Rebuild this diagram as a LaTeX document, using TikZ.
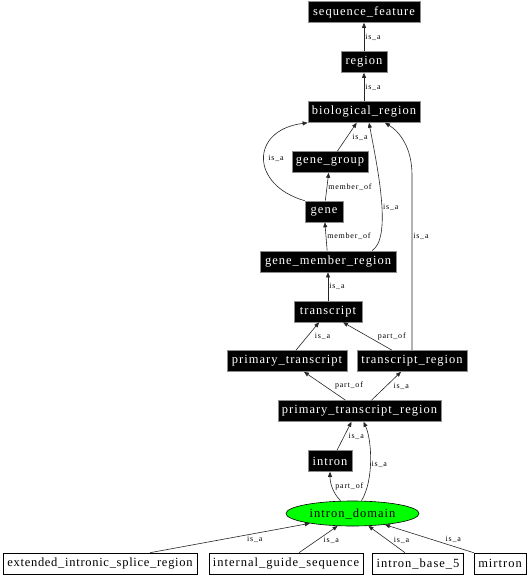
\documentclass[tikz,border=0pt]{standalone}
\usepackage{fontspec}
\setmainfont{Liberation Serif}
\newfontfamily\nfont[LetterSpace=8]{Liberation Serif}
\newfontfamily\nfontb[LetterSpace=5.7]{Liberation Serif}
\newfontfamily\lfont[LetterSpace=10]{Liberation Serif}
\usetikzlibrary{arrows.meta,shapes.geometric,calc}
\begin{document}
\begin{tikzpicture}[x=1pt,y=-1pt,
  base/.style={font=\nfont\fontsize{12.5}{14}\selectfont, line width=0.6pt, minimum height=21pt, inner xsep=4pt, inner ysep=0pt},
  blk/.style={base, rectangle, fill=black, draw=black!45, text=white},
  wht/.style={base, rectangle, fill=white, draw=black, text=black},
  gre/.style={base, ellipse, fill=green, draw=black, text=black, minimum width=133pt, minimum height=25pt, inner sep=0pt},
  edge/.style={draw=black!85, line width=0.6pt, -{Triangle[length=5pt,width=4pt]}},
  lbl/.style={font=\lfont\fontsize{8}{9}\selectfont, inner sep=1pt, text=black}]
\useasboundingbox[fill=white] (0,0) rectangle (530,576);
\node[blk, minimum width=112pt] (sf) at (364,12) {sequence\_feature};
\node[blk, minimum width=46pt] (reg) at (364,62) {region};
\node[blk, minimum width=108pt] (bio) at (364,112) {biological\_region};
\node[blk, minimum width=76pt] (gg) at (330,162) {gene\_group};
\node[blk, minimum width=38pt] (gene) at (324,211.5) {gene};
\node[blk, minimum width=136pt] (gmr) at (328,261.5) {gene\_member\_region};
\node[blk, minimum width=68pt] (tr) at (328,311.5) {transcript};
\node[blk, minimum width=120pt] (pt) at (287,361) {primary\_transcript};
\node[blk, minimum width=110pt] (trr) at (412,361) {transcript\_region};
\node[blk, minimum width=163pt] (ptr) at (359.5,411) {primary\_transcript\_region};
\node[blk, minimum width=44pt] (intron) at (330,461) {intron};
\node[gre] (idom) at (352.5,513.5) {intron\_domain};
\node[wht, font=\nfontb\fontsize{12.5}{14}\selectfont, minimum width=194pt] (ext) at (100,563.5) {extended\_intronic\_splice\_region};
\node[wht, minimum width=154pt] (igs) at (286,563.5) {internal\_guide\_sequence};
\node[wht, minimum width=90pt] (ib5) at (418,563.5) {intron\_base\_5};
\node[wht, minimum width=52pt] (mir) at (500,563.5) {mirtron};

\draw[edge] (reg) -- node[lbl, anchor=west] {is\_a} (sf);
\draw[edge] (bio) -- node[lbl, anchor=west] {is\_a} (reg);
\draw[edge] (gg) -- node[lbl, anchor=west, xshift=4pt] {is\_a} (bio);
\draw[edge] (gene) -- node[lbl, anchor=west] {member\_of} (gg);
\draw[edge] (gene.north west) .. controls (250,185) and (250,130) .. node[lbl, pos=0.5, anchor=west, xshift=3pt] {is\_a} (bio.south west);
\draw[edge] (gmr) -- node[lbl, anchor=west] {member\_of} (gene);
\draw[edge] ($(gmr.north)+(44,0)$) .. controls (392,238) and (378,170) .. node[lbl, pos=0.45, anchor=west] {is\_a} ($(bio.south)+(5,0)$);
\draw[edge] (tr) -- node[lbl, anchor=west] {is\_a} (gmr);
\draw[edge] (pt) -- node[lbl, anchor=west, xshift=6pt] {is\_a} (tr);
\draw[edge] ($(trr.north)+(-20,0)$) -- node[lbl, anchor=west, xshift=9pt] {part\_of} ($(tr.south)+(15,0)$);
\draw[edge] (trr.north) -- node[lbl, pos=0.65, anchor=west] {is\_a} (412,175) .. controls (412,148) and (400,132) .. ($(bio.south)+(21,0)$);
\draw[edge] ($(ptr.north)+(-14,0)$) -- node[lbl, anchor=west, xshift=9pt] {part\_of} ($(pt.south)+(17,0)$);
\draw[edge] ($(ptr.north)+(12,0)$) -- node[lbl, anchor=west, xshift=6pt] {is\_a} ($(trr.south)+(-11,0)$);
\draw[edge] ($(intron.north)+(7,0)$) -- node[lbl, anchor=west, xshift=3pt] {is\_a} ($(ptr.south)+(-8,0)$);
\draw[edge] ($(idom.north)+(9,0)$) .. controls (374,480) and (372,440) .. node[lbl, pos=0.45, anchor=west] {is\_a} ($(ptr.south)+(4,0)$);
\draw[edge] ($(idom.north)+(-12,0)$) .. controls (332,492) and (330,482) .. node[lbl, pos=0.5, anchor=west, xshift=2pt] {part\_of} (intron.south);
\draw[edge] ($(ext.north)+(50,0)$) -- node[lbl, pos=0.6, anchor=north west] {is\_a} (idom.193);
\draw[edge] ($(igs.north)+(13,0)$) -- node[lbl, pos=0.45, anchor=west, xshift=6pt] {is\_a} (idom.220);
\draw[edge] ($(ib5.north)+(-13,0)$) -- node[lbl, pos=0.45, anchor=west, xshift=4pt] {is\_a} (idom.322);
\draw[edge] (mir.north west) -- node[lbl, pos=0.33, anchor=south west] {is\_a} (idom.341);
\end{tikzpicture}
\end{document}
